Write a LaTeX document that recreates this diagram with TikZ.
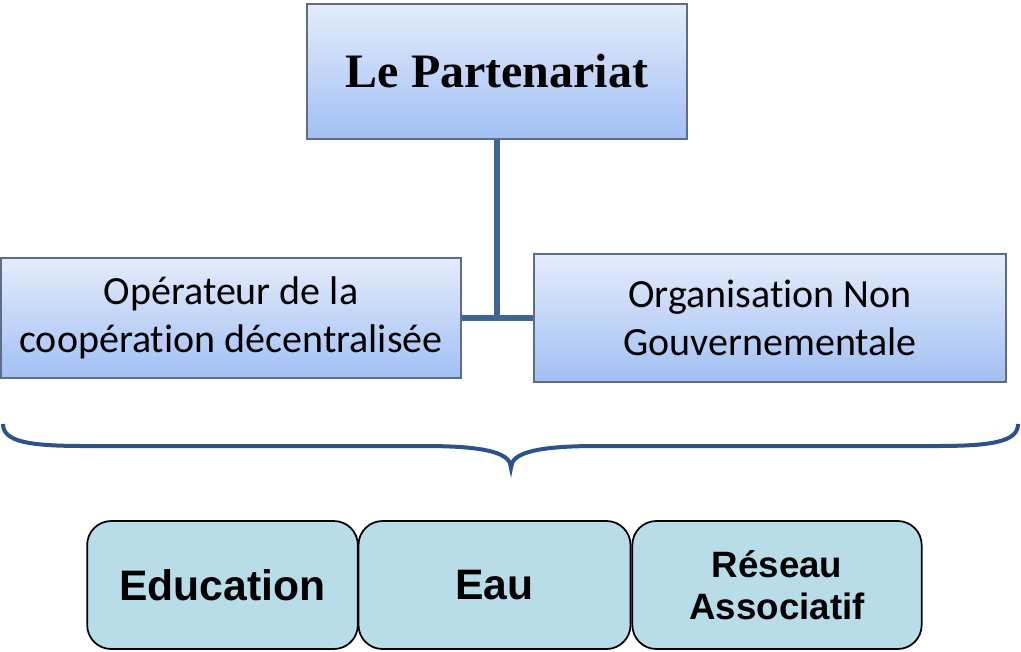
\documentclass[tikz,border=0pt]{standalone}
\usepackage{fontspec}
\newfontfamily\titlefont{Liberation Serif}
\newfontfamily\carlitofont[Ligatures=NoCommon]{Carlito}
\newfontfamily\arialfont{Liberation Sans}
\definecolor{gradtop}{HTML}{E4ECFB}
\definecolor{gradbot}{HTML}{A2C0F4}
\definecolor{boxline}{HTML}{5E6D84}
\definecolor{connblue}{HTML}{3D6695}
\definecolor{braceblue}{HTML}{2B5389}
\definecolor{tealfill}{HTML}{B8DDE8}
\tikzset{
  bluebox/.style={draw=boxline, line width=1.6pt, top color=gradtop, bottom color=gradbot, inner sep=0pt, align=center},
  conn/.style={draw=connblue, line width=5pt},
  bracestyle/.style={draw=braceblue, line width=3pt},
  tealbox/.style={draw=black, line width=1.3pt, fill=tealfill, rounded corners=18pt, inner sep=0pt, align=center},
}
\begin{document}
\begin{tikzpicture}[x=0.75pt,y=-0.75pt]
\useasboundingbox (0,0) rectangle (1021,651);
\node[bluebox, minimum width=285pt, minimum height=101pt, font=\titlefont\bfseries\fontsize{36}{40}\selectfont] (top) at (497,71.5)
  {Le Partenariat};
\node[bluebox, minimum width=345pt, minimum height=90pt, font=\carlitofont\fontsize{30}{36}\selectfont] (L) at (231,318)
  {Opérateur de la\\coopération décentralisée};
\node[bluebox, minimum width=354pt, minimum height=96pt, font=\carlitofont\fontsize{30}{36}\selectfont] (R) at (770,318)
  {Organisation Non\\Gouvernementale};
\draw[conn] (top.south) -- (top.south |- L.east);
\draw[conn] (L.east) -- (R.west);
\draw[bracestyle] (3,424) .. controls (3,442) and (30,446) .. (85,446) -- (425,446)
  .. controls (490,446) and (511,454) .. (511,468)
  .. controls (511,454) and (532,446) .. (597,446) -- (936,446)
  .. controls (991,446) and (1018,442) .. (1018,424);
\node[tealbox, minimum width=203pt, minimum height=96pt, font=\arialfont\bfseries\fontsize{32}{36}\selectfont] (edu) at (222.5,585)
  {Education};
\node[tealbox, minimum width=204pt, minimum height=96pt, font=\arialfont\bfseries\fontsize{32}{36}\selectfont] (eau) at (494.5,585)
  {Eau};
\node[tealbox, minimum width=217pt, minimum height=96pt, font=\arialfont\bfseries\fontsize{27.5}{31.5}\selectfont] (res) at (777,585)
  {Réseau\\Associatif};
\end{tikzpicture}
\end{document}
